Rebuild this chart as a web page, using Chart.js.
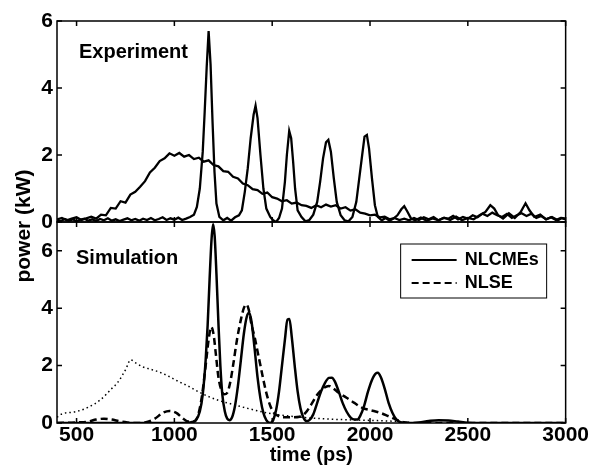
<!DOCTYPE html>
<html>
<head>
<meta charset="utf-8">
<script src="https://cdn.jsdelivr.net/npm/chart.js@4.4.0/dist/chart.umd.min.js"></script>
<style>
  html, body { margin: 0; padding: 0; background: #fff; }
  #wrap { position: relative; width: 589px; height: 473px; }
</style>
</head>
<body>
<div id="wrap"><canvas id="chart-pulses" width="589" height="473"></canvas></div>
<script>
const FONT = "'Liberation Sans', Arial, Helvetica, sans-serif";

// time axis ticks (ps) and power ticks (kW) of each panel
const timeTicks = [500, 1000, 1500, 2000, 2500, 3000];
const expTicks = [0, 2, 4, 6];
const simTicks = [0, 2, 4, 6];

// Experiment: soliton train at the output
const expSolT = [400, 420, 440, 460, 480, 500, 520, 540, 560, 580, 600, 620, 640, 660, 680, 700, 720, 740, 760, 780,
  800, 820, 840, 860, 880, 900, 920, 940, 960, 980, 1000, 1020, 1040, 1060, 1080, 1100, 1115, 1130, 1145, 1155,
  1165, 1175, 1185, 1195, 1205, 1215, 1230, 1250, 1270, 1290, 1310, 1330, 1345, 1360, 1375, 1390, 1405, 1415, 1425, 1440,
  1455, 1470, 1490, 1505, 1520, 1535, 1550, 1565, 1575, 1587, 1597, 1607, 1617, 1630, 1650, 1670, 1690, 1710, 1730, 1745,
  1760, 1775, 1787, 1800, 1815, 1830, 1850, 1870, 1890, 1910, 1930, 1945, 1960, 1972, 1984, 1995, 2010, 2025, 2040, 2060,
  2080, 2100, 2120, 2140, 2160, 2175, 2190, 2210, 2230, 2260, 2290, 2320, 2350, 2380, 2410, 2440, 2470, 2500, 2530, 2560,
  2590, 2615, 2635, 2655, 2680, 2710, 2740, 2770, 2795, 2815, 2840, 2870, 2900, 2930, 2960, 2980, 3000];
const expSolP = [0.06, 0.03, 0.09, 0.04, 0.08, 0.02, 0.07, 0.1, 0.04, 0.08, 0.03, 0.09, 0.05, 0.11, 0.04, 0.08, 0.03, 0.07, 0.11, 0.05,
  0.09, 0.04, 0.1, 0.06, 0.12, 0.05, 0.09, 0.14, 0.06, 0.11, 0.07, 0.13, 0.06, 0.1, 0.15, 0.22, 0.45, 1.0, 2.1, 3.3,
  4.6, 5.7, 4.7, 3.0, 1.5, 0.55, 0.15, 0.05, 0.12, 0.04, 0.14, 0.2, 0.35, 0.9, 1.6, 2.5, 3.2, 3.47, 3.1, 2.0,
  1.0, 0.4, 0.15, 0.05, 0.0, 0.12, 0.4, 1.2, 2.0, 2.72, 2.5, 1.8, 1.0, 0.35, 0.15, 0.02, 0.06, 0.22, 0.6, 1.2,
  1.9, 2.38, 2.45, 2.1, 1.3, 0.6, 0.2, 0.05, 0.02, 0.15, 0.6, 1.3, 2.0, 2.55, 2.6, 2.2, 1.3, 0.5, 0.15, 0.05,
  0.12, 0.04, 0.1, 0.2, 0.38, 0.47, 0.32, 0.1, 0.05, 0.13, 0.04, 0.11, 0.05, 0.13, 0.06, 0.16, 0.05, 0.12, 0.08, 0.2,
  0.3, 0.5, 0.4, 0.2, 0.1, 0.26, 0.12, 0.3, 0.56, 0.35, 0.15, 0.22, 0.08, 0.15, 0.05, 0.12, 0.1];

// Experiment: broad input pulse
const expInT = [400, 425, 450, 475, 500, 525, 550, 575, 600, 625, 650, 675, 700, 725, 750, 775, 800, 825, 850, 875,
  900, 925, 950, 975, 1000, 1025, 1050, 1075, 1100, 1125, 1150, 1175, 1200, 1225, 1250, 1275, 1300, 1325, 1350, 1375,
  1400, 1425, 1450, 1475, 1500, 1525, 1550, 1575, 1600, 1625, 1650, 1675, 1700, 1725, 1750, 1775, 1800, 1825, 1850, 1875,
  1900, 1925, 1950, 1975, 2000, 2025, 2050, 2075, 2100, 2125, 2150, 2175, 2200, 2225, 2250, 2275, 2300, 2325, 2350, 2375,
  2400, 2425, 2450, 2475, 2500, 2525, 2550, 2575, 2600, 2625, 2650, 2675, 2700, 2725, 2750, 2775, 2800, 2825, 2850, 2875,
  2900, 2925, 2950, 2975, 3000];
const expInP = [0.08, 0.12, 0.05, 0.1, 0.14, 0.06, 0.11, 0.16, 0.1, 0.22, 0.2, 0.42, 0.4, 0.62, 0.58, 0.82, 0.9, 1.05, 1.22, 1.48,
  1.62, 1.82, 1.9, 2.05, 1.98, 2.06, 1.95, 2.0, 1.88, 1.92, 1.8, 1.84, 1.7, 1.66, 1.52, 1.5, 1.35, 1.3, 1.15, 1.1,
  0.98, 0.95, 0.84, 0.88, 0.74, 0.7, 0.62, 0.65, 0.55, 0.58, 0.5, 0.48, 0.42, 0.5, 0.44, 0.52, 0.46, 0.5, 0.4, 0.44,
  0.34, 0.38, 0.28, 0.25, 0.2, 0.22, 0.14, 0.16, 0.08, 0.12, 0.06, 0.1, 0.05, 0.12, 0.06, 0.14, 0.08, 0.15, 0.05, 0.12,
  0.1, 0.18, 0.08, 0.15, 0.1, 0.2, 0.14, 0.25, 0.18, 0.28, 0.2, 0.15, 0.24, 0.12, 0.2, 0.26, 0.18, 0.25, 0.12, 0.18,
  0.08, 0.14, 0.06, 0.12, 0.08];

// Simulation: NLCMEs (solid)
const nlcmeT = [400, 1000, 1080, 1110, 1130, 1145, 1160, 1170, 1180, 1190, 1198, 1206, 1215, 1225, 1235, 1245, 1258, 1270, 1282, 1295,
  1310, 1325, 1340, 1355, 1370, 1383, 1395, 1410, 1425, 1440, 1455, 1470, 1490, 1505, 1520, 1535, 1550, 1565, 1578, 1588,
  1600, 1615, 1630, 1645, 1660, 1675, 1690, 1710, 1730, 1750, 1770, 1790, 1805, 1820, 1840, 1860, 1880, 1900, 1920, 1935,
  1950, 1970, 1990, 2010, 2030, 2040, 2055, 2075, 2095, 2115, 2135, 2155, 2200, 2250, 2300, 2350, 2400, 2450, 2500, 2550, 3000];
const nlcmeP = [0, 0, 0.02, 0.1, 0.4, 1.0, 2.2, 3.4, 5.0, 6.4, 6.92, 6.5, 5.2, 3.5, 2.0, 1.0, 0.4, 0.15, 0.1, 0.2,
  0.6, 1.3, 2.2, 3.1, 3.7, 3.84, 3.5, 2.6, 1.6, 0.85, 0.35, 0.1, 0.0, 0.1, 0.45, 1.1, 2.0, 2.9, 3.6, 3.62,
  3.0, 2.0, 1.1, 0.5, 0.18, 0.07, 0.1, 0.3, 0.7, 1.1, 1.4, 1.57, 1.58, 1.45, 1.1, 0.7, 0.4, 0.2, 0.12, 0.12,
  0.25, 0.6, 1.1, 1.5, 1.73, 1.75, 1.6, 1.2, 0.7, 0.35, 0.12, 0.03, 0.0, 0.02, 0.07, 0.1, 0.09, 0.05, 0.01, 0, 0];

// Simulation: NLSE (dashed)
const nlseT = [400, 500, 560, 600, 640, 680, 720, 760, 800, 850, 900, 940, 975, 1010, 1040, 1070, 1100, 1120, 1140, 1160,
  1175, 1188, 1200, 1212, 1225, 1240, 1255, 1270, 1285, 1300, 1320, 1340, 1355, 1368, 1380, 1395, 1410, 1425, 1440, 1455,
  1470, 1490, 1510, 1530, 1560, 1600, 1640, 1670, 1700, 1730, 1760, 1790, 1810, 1840, 1880, 1920, 1960, 2000, 2050, 2090,
  2120, 2150, 2180, 2200, 3000];
const nlseP = [0, 0.02, 0.05, 0.12, 0.15, 0.12, 0.06, 0.02, 0, 0.02, 0.15, 0.35, 0.42, 0.35, 0.18, 0.05, 0.05, 0.25, 0.9, 2.0,
  2.9, 3.35, 3.1, 2.4, 1.6, 1.15, 1.0, 1.05, 1.4, 2.0, 2.9, 3.6, 4.0, 4.13, 3.95, 3.4, 3.0, 2.5, 2.0, 1.5,
  1.05, 0.6, 0.35, 0.25, 0.2, 0.2, 0.22, 0.35, 0.65, 0.98, 1.2, 1.29, 1.22, 1.05, 0.88, 0.7, 0.53, 0.45, 0.36, 0.25,
  0.16, 0.07, 0.02, 0, 0];

// Simulation: input pulse (dotted)
const inputT = [400, 420, 500, 560, 624, 680, 709, 750, 777, 800, 840, 879, 920, 964, 1020, 1066, 1120, 1168, 1230, 1303,
  1380, 1474, 1550, 1650, 1750, 1850, 1950, 2050, 2150, 2200];
const inputP = [0.2, 0.3, 0.4, 0.55, 0.82, 1.2, 1.4, 1.85, 2.2, 2.1, 1.95, 1.87, 1.78, 1.65, 1.45, 1.3, 1.1, 0.94, 0.78, 0.64,
  0.5, 0.35, 0.27, 0.2, 0.15, 0.12, 0.1, 0.08, 0.05, 0.02];

const legendItems = [
  { text: 'NLCMEs', dash: [] },
  { text: 'NLSE', dash: [7, 4] }
];

const TICK_LEN = 5;

function pairs(ts, ps) {
  return ts.map((t, i) => ({ x: t, y: ps[i] }));
}

function fixTicks(values) {
  return (scale) => { scale.ticks = values.map(value => ({ value })); };
}

const panelFrame = {
  id: 'panelFrame',
  afterDatasetsDraw(chart) {
    const { ctx, chartArea, scales } = chart;
    const x = scales.x;
    ctx.save();
    ctx.strokeStyle = '#000';
    ctx.lineWidth = 1.5;
    [scales.yExp, scales.ySim].forEach((y) => {
      ctx.strokeRect(chartArea.left, y.top, chartArea.right - chartArea.left, y.bottom - y.top);
      ctx.beginPath();
      y.ticks.forEach((t) => {
        const py = y.getPixelForValue(t.value);
        ctx.moveTo(chartArea.left, py); ctx.lineTo(chartArea.left + TICK_LEN, py);
        ctx.moveTo(chartArea.right, py); ctx.lineTo(chartArea.right - TICK_LEN, py);
      });
      x.ticks.forEach((t) => {
        const px = x.getPixelForValue(t.value);
        ctx.moveTo(px, y.top); ctx.lineTo(px, y.top + TICK_LEN);
        ctx.moveTo(px, y.bottom); ctx.lineTo(px, y.bottom - TICK_LEN);
      });
      ctx.stroke();
    });

    // panel captions
    ctx.fillStyle = '#000';
    ctx.font = `bold 20px ${FONT}`;
    ctx.textBaseline = 'middle';
    ctx.textAlign = 'left';
    ctx.fillText('Experiment', chartArea.left + 22, scales.yExp.top + 31);
    ctx.fillText('Simulation', chartArea.left + 19, scales.ySim.top + 36);

    // y title across both panels
    ctx.save();
    ctx.translate(24, 226);
    ctx.rotate(-Math.PI / 2);
    ctx.textAlign = 'center';
    ctx.font = `bold 21px ${FONT}`;
    ctx.fillText('power (kW)', 0, 0);
    ctx.restore();

    // legend box
    const bx = chartArea.right - 165;
    const by = scales.ySim.top + 22;
    ctx.lineWidth = 1;
    ctx.strokeRect(bx, by, 146, 54);
    ctx.font = `bold 18px ${FONT}`;
    legendItems.forEach((item, i) => {
      const ly = by + 16 + i * 23;
      ctx.beginPath();
      ctx.setLineDash(item.dash);
      ctx.lineWidth = 1.8;
      ctx.moveTo(bx + 11, ly);
      ctx.lineTo(bx + 56, ly);
      ctx.stroke();
      ctx.setLineDash([]);
      ctx.fillText(item.text, bx + 64, ly);
    });
    ctx.restore();
  }
};

const tickFont = { family: FONT, size: 21, weight: 'bold' };

new Chart(document.getElementById('chart-pulses'), {
  type: 'line',
  data: {
    datasets: [
      { data: pairs(expSolT, expSolP), yAxisID: 'yExp', borderColor: '#000', borderWidth: 2.3, tension: 0 },
      { data: pairs(expInT, expInP), yAxisID: 'yExp', borderColor: '#000', borderWidth: 2.3, tension: 0 },
      { data: pairs(inputT, inputP), yAxisID: 'ySim', borderColor: '#000', borderWidth: 1.5, borderDash: [1.5, 3], cubicInterpolationMode: 'monotone' },
      { data: pairs(nlseT, nlseP), yAxisID: 'ySim', borderColor: '#000', borderWidth: 2.5, borderDash: [7, 4], cubicInterpolationMode: 'monotone' },
      { data: pairs(nlcmeT, nlcmeP), yAxisID: 'ySim', borderColor: '#000', borderWidth: 2.5, cubicInterpolationMode: 'monotone' }
    ]
  },
  options: {
    responsive: false,
    animation: false,
    elements: { point: { radius: 0 } },
    layout: { padding: { top: 21, right: 23, left: 0, bottom: 0 } },
    plugins: { legend: { display: false }, tooltip: { enabled: false } },
    scales: {
      x: {
        type: 'linear',
        min: 400,
        max: 3000,
        afterBuildTicks: fixTicks(timeTicks),
        afterFit: (scale) => { scale.height = 50; },
        grid: { display: false, drawTicks: false },
        border: { display: false },
        ticks: { color: '#000', font: tickFont, padding: 0, maxRotation: 0, callback: (value) => String(value) },
        title: { display: true, text: 'time (ps)', color: '#000', font: { family: FONT, size: 20, weight: 'bold' }, padding: { top: 0, bottom: 6 } }
      },
      ySim: {
        type: 'linear',
        stack: 'panels',
        stackWeight: 1,
        min: 0,
        max: 7,
        afterBuildTicks: fixTicks(simTicks),
        afterFit: (scale) => { scale.width = 57; },
        grid: { display: false, drawTicks: false },
        border: { display: false },
        ticks: { color: '#000', font: tickFont, padding: 4 }
      },
      yExp: {
        type: 'linear',
        stack: 'panels',
        stackWeight: 1,
        min: 0,
        max: 6,
        afterBuildTicks: fixTicks(expTicks),
        afterFit: (scale) => { scale.width = 57; },
        grid: { display: false, drawTicks: false },
        border: { display: false },
        ticks: { color: '#000', font: tickFont, padding: 4 }
      }
    }
  },
  plugins: [panelFrame]
});
</script>
</body>
</html>
